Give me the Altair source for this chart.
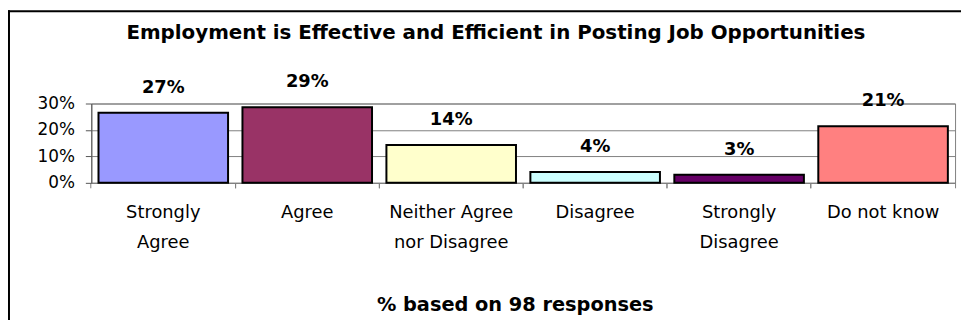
import altair as alt
import pandas as pd

TITLE = "Employment is Effective and Efficient in Posting Job Opportunities"
AXIS_TITLE = "% based on 98 responses"
categories = ["Strongly\nAgree", "Agree", "Neither Agree\nnor Disagree", "Disagree", "Strongly\nDisagree", "Do not know"]
values = [0.265, 0.286, 0.143, 0.041, 0.031, 0.214]
labels = ["27%", "29%", "14%", "4%", "3%", "21%"]
colors = ["#9999FF", "#993366", "#FFFFCC", "#CCFFFF", "#660066", "#FF8080"]
y_ticks = [0, 0.1, 0.2, 0.3]

FONT = "DejaVu Sans"

df = pd.DataFrame({"cat": categories, "value": values, "label": labels})
one = pd.DataFrame({"t": [TITLE]})

Y = alt.Y(
    "value:Q",
    scale=alt.Scale(domain=[0, 0.3], nice=False),
    axis=alt.Axis(
        values=y_ticks, format=".0%", title=None, grid=True,
        gridColor="#808080", gridWidth=1, domainColor="#555555", tickColor="#555555",
        tickSize=6, labelPadding=11, labelFontSize=17, labelFont=FONT, labelColor="black",
    ),
)

xscale = alt.Scale(paddingInner=0.1, paddingOuter=0.05)

bars = alt.Chart(df).mark_bar(stroke="black", strokeWidth=2).encode(
    x=alt.X(
        "cat:N", sort=categories, scale=xscale,
        axis=alt.Axis(
            orient="bottom", ticks=False, tickSize=0, domain=True, domainColor="#808080",
            labelAngle=0, labelFont=FONT, labelFontSize=18, labelColor="black",
            labelLineHeight=30, labelBaseline="top", labelPadding=21, labelLimit=0,
            labelExpr="split(datum.label, '\\n')",
            title=AXIS_TITLE, titleFont=FONT, titleFontSize=19.5, titleFontWeight="bold",
            titleColor="black", titleX=427, titleY=129, titleBaseline="alphabetic",
            titleAlign="center",
        ),
    ),
    y=Y,
    color=alt.Color("cat:N", scale=alt.Scale(domain=categories, range=colors), legend=None),
)

texts = alt.Chart(df).mark_text(
    font=FONT, fontSize=18, fontWeight="bold", baseline="alphabetic", dy=-20, color="black"
).encode(
    x=alt.X(
        "cat:N", sort=categories,
        axis=alt.Axis(
            orient="bottom", labels=False, ticks=True, domain=False, grid=False,
            bandPosition=-0.0556, tickSize=5, tickColor="#808080", title=None,
        ),
    ),
    y=Y,
    text="label:N",
)

endtick = alt.Chart(df).mark_text(text="").encode(
    x=alt.X(
        "cat:N", sort=categories,
        axis=alt.Axis(
            orient="bottom", labels=False, ticks=True, domain=False, grid=False,
            bandPosition=1.0556, tickSize=5, tickColor="#808080", title=None,
        ),
    ),
    y=Y,
)

title = alt.Chart(one).mark_text(
    font=FONT, fontSize=20, fontWeight="bold", baseline="alphabetic", align="center", color="black"
).encode(x=alt.value(408), y=alt.value(-65), text="t:N")

border_left = alt.Chart(one).mark_rule(color="black", strokeWidth=2).encode(
    x=alt.value(-83), y=alt.value(-94), y2=alt.value(240)
)
border_top = alt.Chart(one).mark_rule(color="black", strokeWidth=2).encode(
    x=alt.value(-84), x2=alt.value(877), y=alt.value(-93)
)

chart = alt.layer(bars, texts, endtick, title, border_left, border_top).resolve_axis(
    x="independent"
).properties(
    width=871, height=80,
    autosize=alt.AutoSizeParams(type="none"),
    padding={"left": 84, "top": 95, "right": 7, "bottom": 137},
    background="white",
).configure_view(stroke="#808080", strokeWidth=1)

chart.save("out.html", embed_options={"renderer": "svg", "actions": False})
